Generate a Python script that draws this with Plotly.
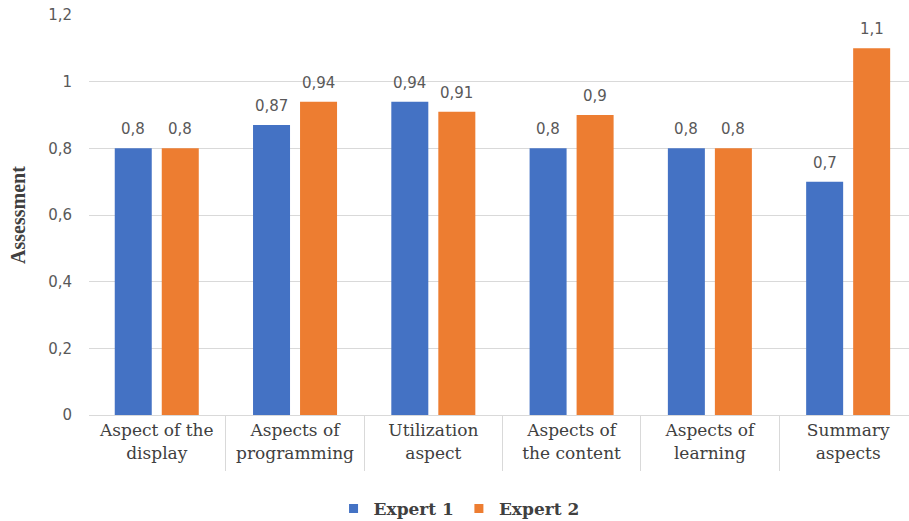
import plotly.graph_objects as go

categories = ["Aspect of the<br>display", "Aspects of<br>programming", "Utilization<br>aspect",
              "Aspects of<br>the content", "Aspects of<br>learning", "Summary<br>aspects"]
expert1 = [0.8, 0.87, 0.94, 0.8, 0.8, 0.7]
expert2 = [0.8, 0.94, 0.91, 0.9, 0.8, 1.1]
series_names = ["Expert 1", "Expert 2"]
colors = ["#4472C4", "#ED7D31"]
y_ticks = [0, 0.2, 0.4, 0.6, 0.8, 1.0, 1.2]

fig = go.Figure()
for name, vals, col in zip(series_names, [expert1, expert2], colors):
    fig.add_trace(go.Bar(x=categories, y=vals, name=name, marker=dict(color=col, line=dict(width=0)),
                         showlegend=False, hoverinfo="skip"))
    fig.add_trace(go.Scatter(x=[None], y=[None], mode="markers", name=name, xaxis="x2",
                             marker=dict(symbol="square", size=9, color=col)))

shift = 23.5
for vals, sx in zip([expert1, expert2], [-shift, shift]):
    for c, v in zip(categories, vals):
        fig.add_annotation(x=c, y=v, text=f"{v:g}".replace(".", ","), showarrow=False,
                           xshift=sx, yshift=8, yanchor="bottom",
                           font=dict(family="DejaVu Sans", size=15, color="#595959"))

rng = [-0.49, len(categories) - 0.56]
fig.update_layout(
    width=909, height=521,
    margin=dict(l=89, r=0, t=15, b=106),
    paper_bgcolor="white", plot_bgcolor="white",
    separators=",.",
    barmode="group", bargap=0.32, bargroupgap=0.213,
    xaxis=dict(type="category", range=rng, showgrid=False, zeroline=False,
               showline=True, linecolor="#d9d9d9", linewidth=1, ticks="",
               tickfont=dict(family="DejaVu Serif", size=17, color="#404040")),
    xaxis2=dict(overlaying="x", anchor="y", side="bottom", range=rng, showgrid=False,
                zeroline=False, showline=False, showticklabels=False,
                tickvals=[i + 0.5 for i in range(len(categories) - 1)],
                ticks="outside", ticklen=55, tickcolor="#d9d9d9", tickwidth=1),
    yaxis=dict(range=[0, 1.2], tickvals=y_ticks, showgrid=True, gridcolor="#d9d9d9",
               gridwidth=1, zeroline=False, showline=False, ticks="",
               ticklabelstandoff=16,
               tickfont=dict(family="DejaVu Sans", size=15, color="#595959"),
               title=dict(text="<b>Assessment</b>", standoff=17,
                          font=dict(family="Liberation Serif", size=20, color="#404040"))),
    legend=dict(orientation="h", xref="container", yref="container", x=0.505, y=0.023,
                xanchor="center", yanchor="middle", itemwidth=30, tracegroupgap=0,
                font=dict(family="DejaVu Serif", size=17, color="#404040", weight="bold")),
)
fig.write_html("out.html")
